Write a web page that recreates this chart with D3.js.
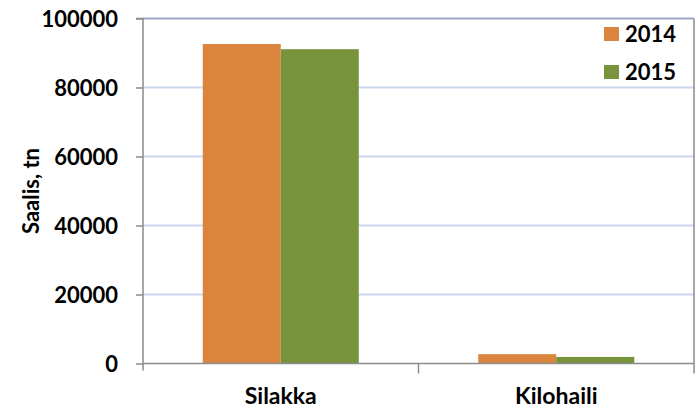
<!DOCTYPE html>
<html><head><meta charset="utf-8">
<script src="https://cdn.jsdelivr.net/npm/d3@7"></script>
<style>body{margin:0;background:#fff}svg{display:block}text{font-family:Lato,"Open Sans",sans-serif;font-weight:bold;fill:#000}</style>
</head><body>
<svg id="c" width="698" height="410"></svg>
<script>
const categories = ["Silakka", "Kilohaili"];
const seriesNames = ["2014", "2015"];
const values2014 = [92600, 2700];
const values2015 = [91100, 1900];
const yTicks = [0, 20000, 40000, 60000, 80000, 100000];
const colors = ["#DB843E", "#77933C"];

const svg = d3.select("#c");
const m = {l: 143, r: 694, t: 18.5, b: 363.5};
const x = d3.scaleBand().domain(categories).range([m.l, m.r]).paddingInner(0).paddingOuter(0);
const x1 = d3.scaleBand().domain(seriesNames).range([0, x.bandwidth()]).paddingInner(0).paddingOuter(0.766);
const y = d3.scaleLinear().domain([0, 100000]).range([m.b, m.t]);

// gridlines
svg.append("g").selectAll("line").data(yTicks.filter(d => d > 0 && d < 100000)).join("line")
  .attr("x1", m.l).attr("x2", m.r).attr("y1", d => y(d)).attr("y2", d => y(d))
  .attr("stroke", "#C9D6EE").attr("stroke-width", 2);
// top border line
svg.append("line").attr("x1", m.l).attr("x2", m.r).attr("y1", y(100000)).attr("y2", y(100000))
  .attr("stroke", "#99A8C4").attr("stroke-width", 2);
// right border
svg.append("line").attr("x1", m.r).attr("x2", m.r).attr("y1", m.t).attr("y2", m.b + 10)
  .attr("stroke", "#8C8C8C").attr("stroke-width", 1.5);

// bars
const data = categories.map((c, i) => ({c, vals: [values2014[i], values2015[i]]}));
const g = svg.append("g");
data.forEach(d => {
  d.vals.forEach((v, j) => {
    g.append("rect")
      .attr("x", x(d.c) + x1(seriesNames[j]))
      .attr("width", x1.bandwidth())
      .attr("y", y(v))
      .attr("height", y(0) - y(v))
      .attr("fill", colors[j]);
  });
});

// y axis
const yAxis = d3.axisLeft(y).tickValues(yTicks).tickSize(7).tickPadding(18).tickFormat(d3.format("d"));
const ya = svg.append("g").attr("transform", `translate(${m.l},0)`).call(yAxis);
ya.select(".domain").attr("stroke", "#8C8C8C").attr("stroke-width", 1.5).attr("d", `M-7,${m.t}H0V${m.b+7}`);
ya.selectAll(".tick line").attr("stroke", "#8C8C8C").attr("stroke-width", 1.5);
ya.selectAll("text").attr("font-size", 22).attr("font-family", "Lato").attr("font-weight", "bold").attr("fill", "#000").attr("dy", "0.36em");

// x axis
const xa = svg.append("g").attr("transform", `translate(0,${m.b})`);
xa.append("line").attr("x1", m.l).attr("x2", m.r).attr("y1", 0).attr("y2", 0).attr("stroke", "#8C8C8C").attr("stroke-width", 1.5);
xa.selectAll(".sep").data(categories.slice(1)).join("line")
  .attr("x1", d => x(d)).attr("x2", d => x(d)).attr("y1", 0).attr("y2", 10)
  .attr("stroke", "#8C8C8C").attr("stroke-width", 1.5);
xa.selectAll(".lbl").data(categories).join("text")
  .attr("x", d => x(d) + x.bandwidth() / 2).attr("y", 40)
  .attr("text-anchor", "middle").attr("font-size", 23).text(d => d);

// y title
svg.append("text").attr("transform", "translate(39,191) rotate(-90)")
  .attr("text-anchor", "middle").attr("font-size", 22).text("Saalis, tn");

// legend
const lg = svg.append("g");
seriesNames.forEach((s, i) => {
  const yy = 34 + i * 38;
  lg.append("rect").attr("x", 604).attr("y", yy - 7).attr("width", 15).attr("height", 14).attr("fill", colors[i]);
  lg.append("text").attr("x", 625).attr("y", yy).attr("dy", "0.36em").attr("font-size", 22).text(s);
});
</script>
</body></html>
